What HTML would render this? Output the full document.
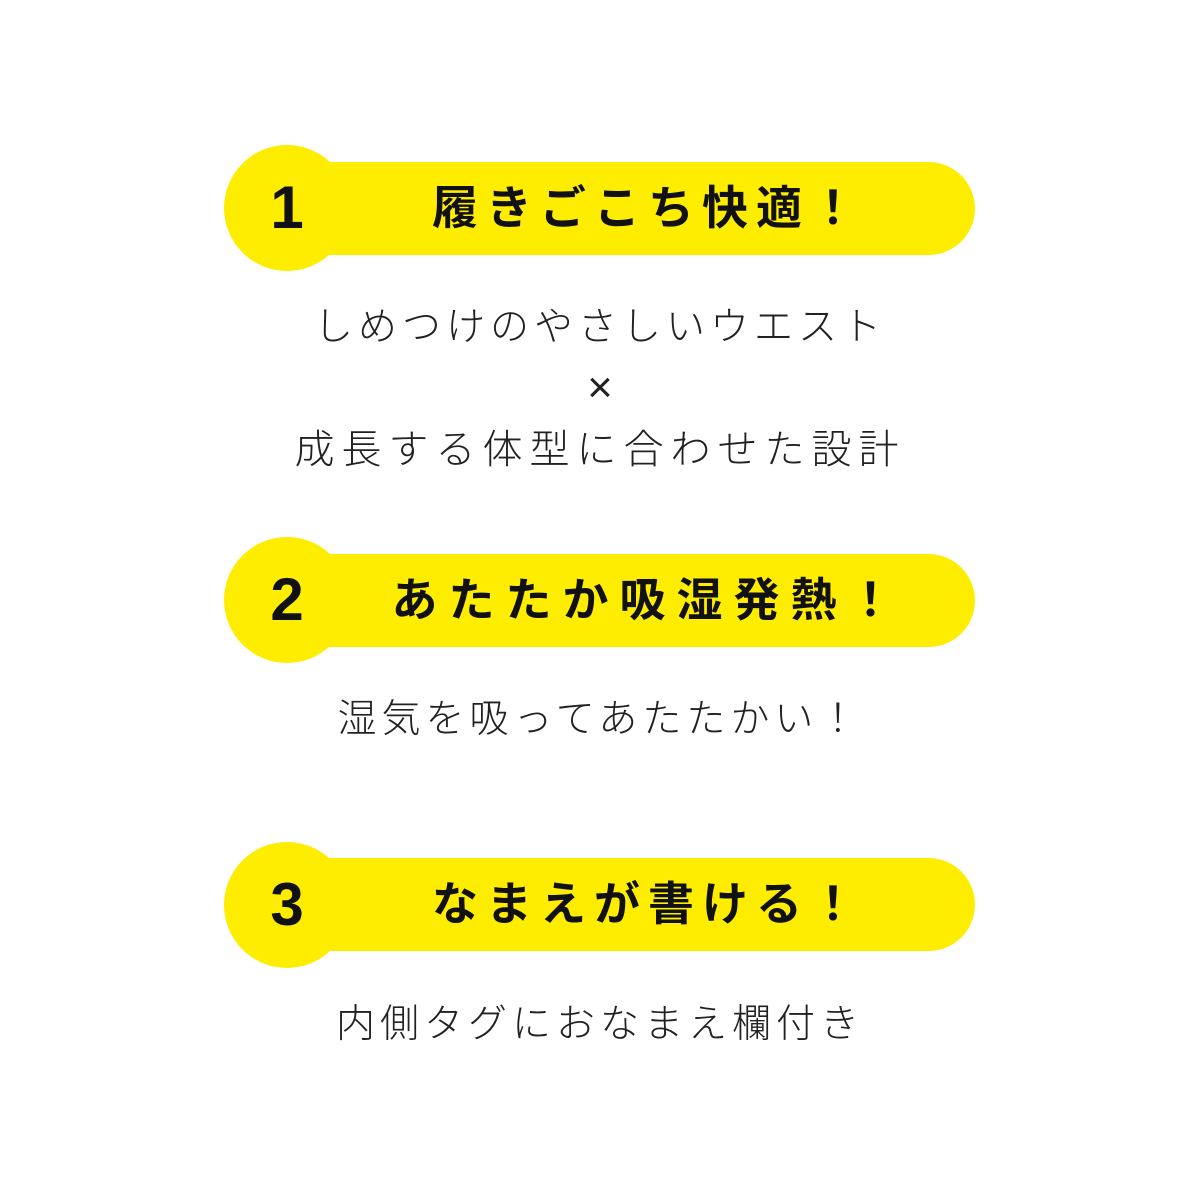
<!DOCTYPE html>
<html><head><meta charset="utf-8"><style>
html,body{margin:0;padding:0;background:#fff;}
body{width:1200px;height:1200px;position:relative;overflow:hidden;font-family:"Liberation Sans","Noto Sans CJK JP",sans-serif;color:#111;}
.c{position:absolute;width:126px;height:126px;border-radius:50%;background:#FFED00;left:224px;}
.b{position:absolute;left:288px;width:687px;height:93px;border-radius:0 47px 47px 0;background:#FFED00;}
.n{position:absolute;left:224px;width:126px;text-align:center;font-weight:bold;font-size:60px;line-height:126px;}
.t{position:absolute;left:296px;width:704px;text-align:center;font-weight:bold;font-size:46px;letter-spacing:8px;line-height:93px;}
.s{position:absolute;left:0;width:1200px;text-align:center;font-weight:300;color:#222;white-space:nowrap;}
</style></head><body>
<div class="c" style="top:145px"></div><div class="b" style="top:162px"></div>
<div class="n" style="top:145px">1</div>
<div class="t" style="top:162px">履きごこち快適！</div>
<div class="s" style="top:303px;font-size:39px;letter-spacing:5px;line-height:50px">しめつけのやさしいウエスト</div>
<div class="s" style="top:363px;font-size:44px;font-weight:100;line-height:50px">×</div>
<div class="s" style="top:425px;font-size:40px;letter-spacing:7px;line-height:50px">成長する体型に合わせた設計</div>

<div class="c" style="top:537px"></div><div class="b" style="top:554px"></div>
<div class="n" style="top:537px">2</div>
<div class="t" style="top:554px;letter-spacing:11px">あたたか吸湿発熱！</div>
<div class="s" style="top:695px;font-size:39px;letter-spacing:5px;line-height:50px">湿気を吸ってあたたかい！</div>

<div class="c" style="top:842px"></div><div class="b" style="top:858px"></div>
<div class="n" style="top:842px">3</div>
<div class="t" style="top:858px">なまえが書ける！</div>
<div class="s" style="top:1000px;font-size:39px;letter-spacing:5px;line-height:50px">内側タグにおなまえ欄付き</div>
</body></html>
